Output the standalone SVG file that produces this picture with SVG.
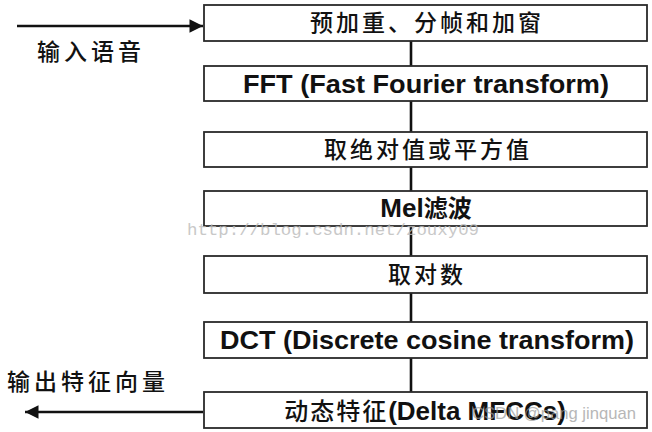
<svg xmlns="http://www.w3.org/2000/svg" width="652" height="432" viewBox="0 0 652 432">
<style>
.box{fill:#fff;stroke:#2a2a2a;stroke-width:1.8}
.zh{font-family:"Liberation Sans","Noto Sans CJK SC",sans-serif;font-size:23px;font-weight:500;fill:#111;text-anchor:middle;letter-spacing:3px}
.en{font-family:"Liberation Sans","Noto Sans CJK SC",sans-serif;font-size:26px;font-weight:bold;fill:#111;text-anchor:middle}
.lbl{font-family:"Liberation Sans","Noto Sans CJK SC",sans-serif;font-size:23px;font-weight:500;fill:#111;letter-spacing:4px}
.conn{stroke:#111;stroke-width:2.6;fill:none}
.wm{font-family:"Liberation Mono",monospace;font-size:16px;fill:#bbb}
</style>
<defs>
<marker id="ah" viewBox="0 0 10 10" refX="10" refY="5" markerWidth="8" markerHeight="5.2" markerUnits="strokeWidth" orient="auto">
<path d="M0,0 L10,5 L0,10 z" fill="#111"/>
</marker>
</defs>
<g id="connectors">
<line class="conn" x1="17" y1="26" x2="203" y2="26" marker-end="url(#ah)"/>
<line class="conn" x1="411" y1="41" x2="411" y2="66"/>
<line class="conn" x1="411" y1="101" x2="411" y2="132"/>
<line class="conn" x1="411" y1="167" x2="411" y2="191"/>
<line class="conn" x1="411" y1="226" x2="411" y2="256"/>
<line class="conn" x1="411" y1="293" x2="411" y2="322"/>
<line class="conn" x1="411" y1="358" x2="411" y2="392"/>
<line class="conn" x1="203" y1="412" x2="25" y2="412" marker-end="url(#ah)"/>
</g>
<g id="label-in"><text class="lbl" x="37" y="60">输入语音</text></g>
<g id="label-out"><text class="lbl" x="7" y="390">输出特征向量</text></g>
<g id="n1"><rect class="box" x="204" y="5" width="443" height="36"/><text class="zh" x="427" y="31">预加重、分帧和加窗</text></g>
<g id="n2"><rect class="box" x="204" y="66" width="443" height="35"/><text class="en" x="426" y="93" textLength="366" lengthAdjust="spacingAndGlyphs">FFT (Fast Fourier transform)</text></g>
<g id="n3"><rect class="box" x="204" y="132" width="443" height="35"/><text class="zh" x="428" y="158">取绝对值或平方值</text></g>
<g id="n4"><rect class="box" x="204" y="191" width="443" height="35"/><text class="en" x="426" y="217"><tspan>Mel</tspan><tspan font-family="'Noto Sans CJK SC',sans-serif" font-size="24">滤波</tspan></text></g>
<g id="n5"><rect class="box" x="204" y="256" width="443" height="37"/><text class="zh" x="427" y="283">取对数</text></g>
<g id="n6"><rect class="box" x="204" y="322" width="443" height="36"/><text class="en" x="427" y="349" textLength="414" lengthAdjust="spacingAndGlyphs">DCT (Discrete cosine transform)</text></g>
<g id="n7"><rect class="box" x="204" y="392" width="443" height="36"/><text class="en" x="425" y="420"><tspan font-family="'Noto Sans CJK SC',sans-serif" font-weight="500" font-size="24" letter-spacing="2">动态特征</tspan><tspan>(Delta MFCCs)</tspan></text></g>
<g id="watermarks">
<text class="wm" x="187" y="235" textLength="292" lengthAdjust="spacingAndGlyphs" opacity="0.8">http://blog.csdn.net/zouxy09</text>
<text x="472" y="419" font-family="'Liberation Sans',sans-serif" font-size="17" fill="#999" opacity="0.7" textLength="164" lengthAdjust="spacingAndGlyphs">CSDN @pang jinquan</text>
</g>
</svg>
